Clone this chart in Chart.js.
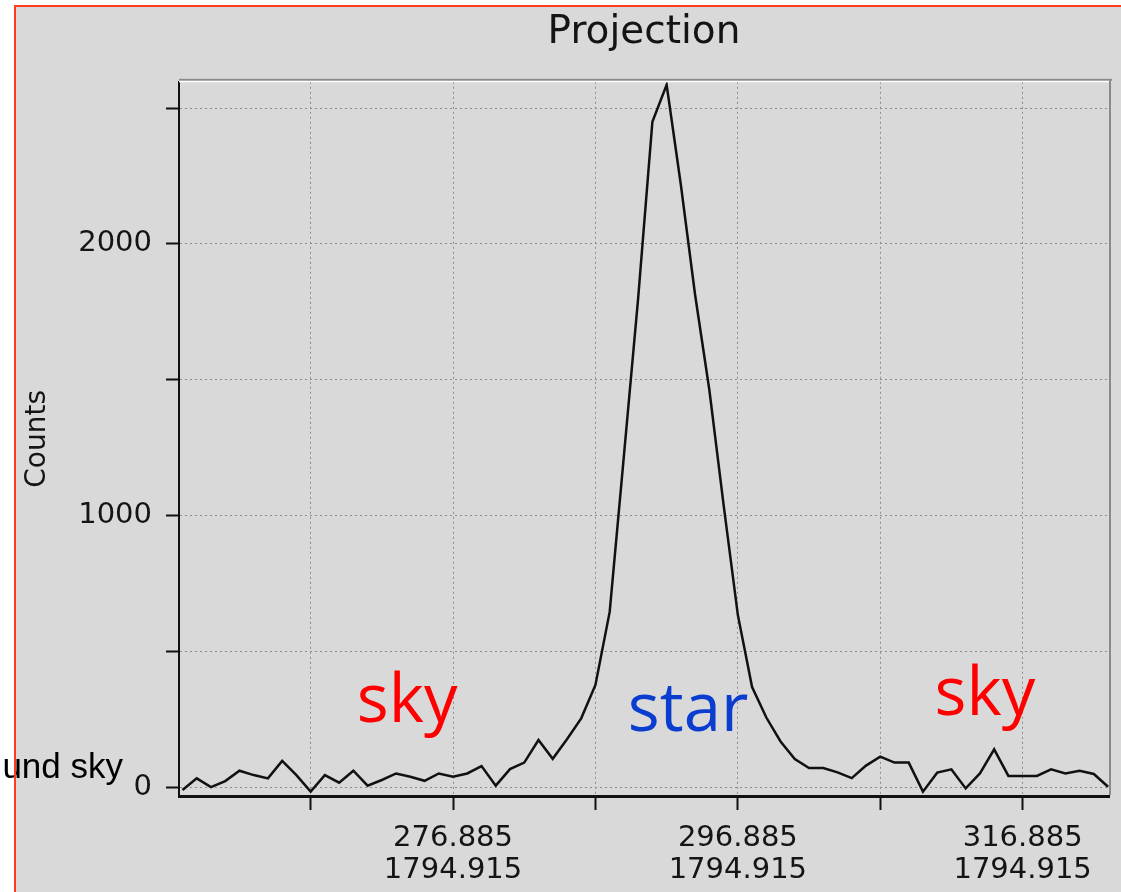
<!DOCTYPE html>
<html lang="en">
<head>
<meta charset="UTF-8">
<title>Projection</title>
<script src="https://cdn.jsdelivr.net/npm/chart.js"></script>
<style>
  html, body { margin: 0; padding: 0; background: #fff; }
</style>
</head>
<body>
<canvas id="grafico" width="1121" height="892"></canvas>
<script>
// sample positions along the cut (pixel column) and projected counts
const columns = [
  257.885, 258.885, 259.885, 260.885, 261.885, 262.885, 263.885, 264.885, 265.885, 266.885,
  267.885, 268.885, 269.885, 270.885, 271.885, 272.885, 273.885, 274.885, 275.885, 276.885,
  277.885, 278.885, 279.885, 280.885, 281.885, 282.885, 283.885, 284.885, 285.885, 286.885,
  287.885, 288.885, 289.885, 290.885, 291.885, 292.885, 293.885, 294.885, 295.885, 296.885,
  297.885, 298.885, 299.885, 300.885, 301.885, 302.885, 303.885, 304.885, 305.885, 306.885,
  307.885, 308.885, 309.885, 310.885, 311.885, 312.885, 313.885, 314.885, 315.885, 316.885,
  317.885, 318.885, 319.885, 320.885, 321.885, 322.885
];
const counts = [
  -11, 32, 0, 22, 60, 44, 32, 96, 44, -17,
  44, 16, 60, 5, 26, 50, 38, 23, 50, 38,
  50, 77, 5, 66, 90, 173, 104, 176, 253, 376,
  645, 1220, 1800, 2450, 2586, 2217, 1812, 1462, 1039, 634,
  368, 256, 168, 103, 70, 70, 54, 33, 79, 112,
  90, 90, -17, 53, 65, -5, 50, 139, 41, 41,
  41, 65, 50, 60, 48, 1
];

const yTickValues = [0, 500, 1000, 1500, 2000, 2500];
const yTickLabels = ['0', '', '1000', '', '2000', ''];
const xTickValues = [266.885, 276.885, 286.885, 296.885, 306.885, 316.885];
const xTickLabels = ['', ['276.885', '1794.915'], '', ['296.885', '1794.915'], '', ['316.885', '1794.915']];

// region labels written over the plot (x in columns, y in counts)
const regionNames = ['sky', 'star', 'sky'];
const regionX = [273.66, 293.39, 314.24];
const regionY = [240, 206, 265];

const textColor = '#141414';
const gridColor = '#8c8c8c';

const decor = {
    id: 'decor',
    beforeDraw(chart) {
        const c = chart.ctx;
        c.save();
        c.fillStyle = '#ffffff';
        c.fillRect(0, 0, chart.width, chart.height);
        c.fillStyle = '#d9d9d9';
        c.fillRect(16, 7, chart.width - 16, chart.height - 7);
        c.restore();
    },
    afterDraw(chart) {
        const c = chart.ctx;
        const a = chart.chartArea;
        const xs = chart.scales.x;
        const ys = chart.scales.y;
        c.save();

        // sunken frame on top / right of the plot
        c.fillStyle = '#8a8a8a';
        c.fillRect(a.left, a.top - 3, a.right - a.left + 3, 2);
        c.fillRect(a.right, a.top - 1, 2, a.bottom - a.top);
        c.fillStyle = '#ffffff';
        c.fillRect(a.left, a.top - 1, a.right - a.left, 1.5);

        // sky / star
        c.font = '67px "Open Sans"';
        c.textAlign = 'center';
        c.textBaseline = 'alphabetic';
        regionNames.forEach((t, i) => {
            c.fillStyle = t === 'star' ? '#0a3ccf' : '#ff0000';
            c.fillText(t, xs.getPixelForValue(regionX[i]), ys.getPixelForValue(regionY[i]));
        });

        // leftover slide text, cut by the picture edge
        c.font = '35px "Liberation Sans"';
        c.textAlign = 'right';
        c.fillStyle = '#000000';
        c.fillText('und sky', 123, 778);

        // red outline of the screenshot
        c.strokeStyle = '#ff3b1f';
        c.lineWidth = 2;
        c.beginPath();
        c.moveTo(15, chart.height);
        c.lineTo(15, 6);
        c.lineTo(chart.width, 6);
        c.stroke();
        c.restore();
    }
};

const ctx = document.getElementById('grafico').getContext('2d');
new Chart(ctx, {
    type: 'line',
    data: {
        datasets: [{
            data: columns.map((x, i) => ({ x: x, y: counts[i] })),
            borderColor: '#111111',
            borderWidth: 2.5,
            pointRadius: 0,
            tension: 0,
            fill: false
        }]
    },
    options: {
        responsive: false,
        animation: false,
        layout: { padding: { left: 15, right: 12, top: 0, bottom: 0 } },
        plugins: {
            legend: { display: false },
            tooltip: { enabled: false },
            title: {
                display: true,
                text: 'Projection',
                fullSize: false,
                color: textColor,
                font: { family: 'DejaVu Sans', size: 39, weight: 'normal' },
                padding: { top: 9, bottom: 26 }
            }
        },
        scales: {
            x: {
                type: 'linear',
                min: 257.64,
                max: 322.95,
                afterFit: s => { s.height = 96; },
                afterBuildTicks: s => { s.ticks = xTickValues.map(v => ({ value: v })); },
                ticks: {
                    autoSkip: false,
                    maxRotation: 0,
                    padding: 13,
                    color: textColor,
                    font: { family: 'DejaVu Sans', size: 29, lineHeight: 1.1 },
                    callback: (v, i) => xTickLabels[i]
                },
                grid: { color: gridColor, lineWidth: 1, tickLength: 14, tickColor: '#111111', tickWidth: 2 },
                border: { color: '#111111', width: 3, dash: [2, 3] }
            },
            y: {
                type: 'linear',
                min: -33,
                max: 2597,
                afterFit: s => { s.width = 164; },
                afterBuildTicks: s => { s.ticks = yTickValues.map(v => ({ value: v })); },
                ticks: {
                    padding: 14,
                    color: textColor,
                    font: { family: 'DejaVu Sans', size: 29 },
                    callback: (v, i) => yTickLabels[i]
                },
                title: {
                    display: true,
                    text: 'Counts',
                    color: textColor,
                    font: { family: 'DejaVu Sans', size: 28 },
                    padding: { top: 6, bottom: 0 }
                },
                grid: { color: gridColor, lineWidth: 1, tickLength: 13, tickColor: '#111111', tickWidth: 2 },
                border: { color: '#111111', width: 2, dash: [2, 3] }
            }
        }
    },
    plugins: [decor]
});
</script>
</body>
</html>
